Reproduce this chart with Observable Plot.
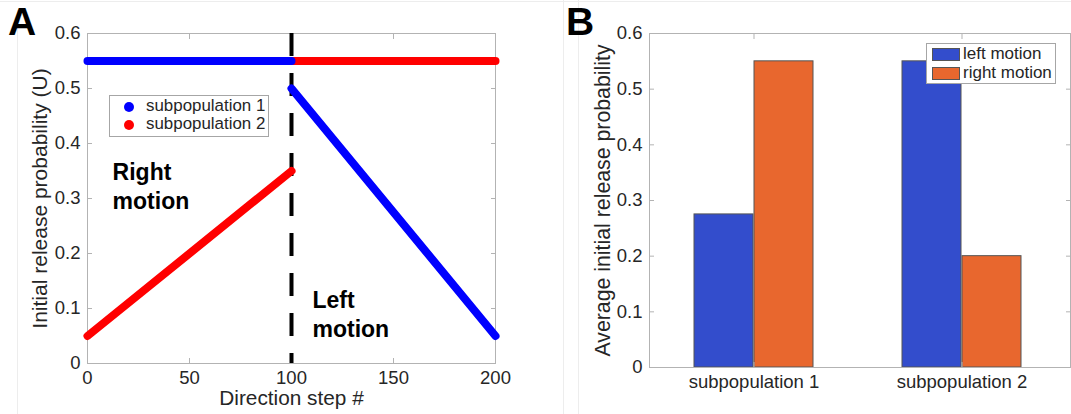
<!DOCTYPE html>
<html>
<head>
<meta charset="utf-8">
<script src="https://cdn.jsdelivr.net/npm/d3@7"></script>
<script src="https://cdn.jsdelivr.net/npm/@observablehq/plot@0.6"></script>
<style>
  html, body { margin: 0; padding: 0; background: #fff; }
  #fig { position: relative; width: 1071px; height: 414px; overflow: hidden; font-family: "Liberation Sans", Arial, sans-serif; color: #262626; }
  #fig svg { position: absolute; top: 0; overflow: visible; }
  .panel-letter { position: absolute; font-weight: bold; font-size: 39px; color: #000; line-height: 44px; }
  .legend { position: absolute; background: #fff; border: 1px solid #a6a6a6; box-sizing: border-box; }
  .legend .row { position: absolute; left: 0; white-space: nowrap; }
  .dot { position: absolute; width: 10px; height: 10px; border-radius: 50%; }
  .swatch { position: absolute; width: 28px; height: 13px; border: 1px solid #555; box-sizing: border-box; }
  .divider { position: absolute; background: #ededed; }
</style>
</head>
<body>
<div id="fig"></div>
<script>
// ---- Panel A: initial release probability along the direction sweep ----
const stepTicks = [0, 50, 100, 150, 200];
const probTicks = [0, 0.1, 0.2, 0.3, 0.4, 0.5, 0.6];
const switchStep = [100];

// subpopulation 1 (blue): flat while moving right, then falls during left motion
const sub1Step = [0, 100, 100, 200];
const sub1U = [0.55, 0.55, 0.5, 0.05];
const sub1Segment = ["a", "a", "b", "b"];

// subpopulation 2 (red): rises while moving right, then flat during left motion
const sub2Step = [0, 100, 100, 200];
const sub2U = [0.05, 0.35, 0.55, 0.55];
const sub2Segment = ["a", "a", "b", "b"];

const motionLabels = ["Right\nmotion", "Left\nmotion"];
const motionLabelStep = [12.3, 110.3];
const motionLabelU = [0.3245, 0.091];

// ---- Panel B: average initial release probability per subpopulation ----
const groups = ["subpopulation 1", "subpopulation 2"];
const leftMotion = [0.275, 0.55];
const rightMotion = [0.55, 0.2];
const seriesNames = ["left motion", "right motion"];
const populationNames = ["subpopulation 1", "subpopulation 2"];

const BLUE_LINE = "#0000ff", RED_LINE = "#ff0000";
const BAR_BLUE = "#334dcc", BAR_ORANGE = "#e8672e";
const FONT = "Liberation Sans, Arial, sans-serif";
const INK = "#262626";
const FRAME = "#b3b3b3";
const fmt = (d) => String(d);

const toRows = (xs, ys, zs) => xs.map((x, i) => ({x, y: ys[i], z: zs[i]}));
const sub1Rows = toRows(sub1Step, sub1U, sub1Segment);
const sub2Rows = toRows(sub2Step, sub2U, sub2Segment);
const labelRows = motionLabels.map((t, i) => ({t, x: motionLabelStep[i], y: motionLabelU[i]}));

const fig = document.getElementById("fig");

// faint panel borders of the composed figure
function addDiv(cls, css, parent = fig) {
  const d = document.createElement("div");
  d.className = cls;
  Object.assign(d.style, css);
  parent.appendChild(d);
  return d;
}
addDiv("divider", {left: "0px", top: "1px", width: "1071px", height: "1px"});
addDiv("divider", {left: "17px", top: "10px", width: "1px", height: "404px"});
addDiv("divider", {left: "563px", top: "0px", width: "1px", height: "414px"});
addDiv("divider", {left: "578px", top: "0px", width: "1px", height: "414px"});

const chartA = Plot.plot({
  width: 540,
  height: 414,
  marginLeft: 87,
  marginRight: 45,
  marginTop: 33,
  marginBottom: 51,
  style: {fontFamily: FONT, fontSize: "18.5px", color: INK, background: "transparent"},
  x: {domain: [0, 200]},
  y: {domain: [0, 0.6]},
  marks: [
    Plot.frame({stroke: FRAME}),
    Plot.axisX({ticks: stepTicks, tickFormat: fmt, tickSize: -5, tickPadding: 12, stroke: FRAME, fontSize: 18.5, label: null}),
    Plot.axisX({anchor: "top", ticks: stepTicks, tickSize: -5, stroke: FRAME, tickFormat: () => "", label: null}),
    Plot.axisY({ticks: probTicks, tickFormat: fmt, tickSize: -5, tickPadding: 12, stroke: FRAME, fontSize: 18.5, label: null}),
    Plot.axisY({anchor: "right", ticks: probTicks, tickSize: -5, stroke: FRAME, tickFormat: () => "", label: null}),
    Plot.text(["Direction step #"], {frameAnchor: "bottom", dy: 35, lineAnchor: "middle", fontSize: 20.8, fill: INK}),
    Plot.text(["Initial release probability (U)"], {frameAnchor: "left", dx: -47, rotate: -90, textAnchor: "middle", lineAnchor: "middle", fontSize: 21, fill: INK}),
    Plot.ruleX(switchStep, {stroke: "#000", strokeWidth: 4, strokeDasharray: "23,17"}),
    Plot.line(sub2Rows, {x: "x", y: "y", z: "z", stroke: RED_LINE, strokeWidth: 8, strokeLinecap: "round"}),
    Plot.line(sub1Rows, {x: "x", y: "y", z: "z", stroke: BLUE_LINE, strokeWidth: 8, strokeLinecap: "round"}),
    Plot.text(labelRows, {x: "x", y: "y", text: "t", textAnchor: "start", lineAnchor: "middle", lineHeight: 1.27, fontSize: 23, fontWeight: "bold", fill: "#000"})
  ]
});
chartA.style.left = "0px";
fig.appendChild(chartA);

const barRows = (vals) => groups.map((g, i) => ({g, v: vals[i]}));

const chartB = Plot.plot({
  width: 531,
  height: 414,
  marginLeft: 109,
  marginRight: 1,
  marginTop: 33,
  marginBottom: 47,
  style: {fontFamily: FONT, fontSize: "18.5px", color: INK, background: "transparent"},
  x: {domain: groups, paddingInner: 0.4258, paddingOuter: 0.2201, align: 0.478},
  y: {domain: [0, 0.6]},
  marks: [
    Plot.barY(barRows(leftMotion), {x: "g", y: "v", fill: BAR_BLUE, stroke: "#555", strokeWidth: 1, insetRight: 60}),
    Plot.barY(barRows(rightMotion), {x: "g", y: "v", fill: BAR_ORANGE, stroke: "#555", strokeWidth: 1, insetLeft: 60}),
    Plot.frame({stroke: FRAME}),
    Plot.axisX({tickSize: -5, tickPadding: 12, stroke: FRAME, fontSize: 18.5, label: null}),
    Plot.axisX({anchor: "top", tickSize: -5, stroke: FRAME, tickFormat: () => "", label: null}),
    Plot.axisY({ticks: probTicks, tickFormat: fmt, tickSize: -5, tickPadding: 12, stroke: FRAME, fontSize: 18.5, label: null}),
    Plot.axisY({anchor: "right", ticks: probTicks, tickSize: -5, stroke: FRAME, tickFormat: () => "", label: null}),
    Plot.text(["Average initial release probability"], {frameAnchor: "left", dx: -46, rotate: -90, textAnchor: "middle", lineAnchor: "middle", fontSize: 21.3, fill: INK})
  ]
});
chartB.style.left = "540px";
fig.appendChild(chartB);

// panel letters
const la = addDiv("panel-letter", {left: "8px", top: "0px"}); la.textContent = "A";
const lb = addDiv("panel-letter", {left: "566px", top: "0px"}); lb.textContent = "B";

// legend, panel A
const legA = addDiv("legend", {left: "109px", top: "95px", width: "160px", height: "42px"});
[[populationNames[0], BLUE_LINE], [populationNames[1], RED_LINE]].forEach(([name, col], i) => {
  addDiv("dot", {left: "14px", top: (6 + i * 18) + "px", background: col}, legA);
  const t = addDiv("row", {left: "36px", top: (0 + i * 18) + "px", fontSize: "16.9px", lineHeight: "20px"}, legA);
  t.textContent = name;
});

// legend, panel B
const legB = addDiv("legend", {left: "926px", top: "43px", width: "130px", height: "41px"});
[[seriesNames[0], BAR_BLUE], [seriesNames[1], BAR_ORANGE]].forEach(([name, col], i) => {
  addDiv("swatch", {left: "5px", top: (4 + i * 19) + "px", background: col}, legB);
  const t = addDiv("row", {left: "36px", top: (0 + i * 19) + "px", fontSize: "17px", lineHeight: "20px"}, legB);
  t.textContent = name;
});
</script>
</body>
</html>
